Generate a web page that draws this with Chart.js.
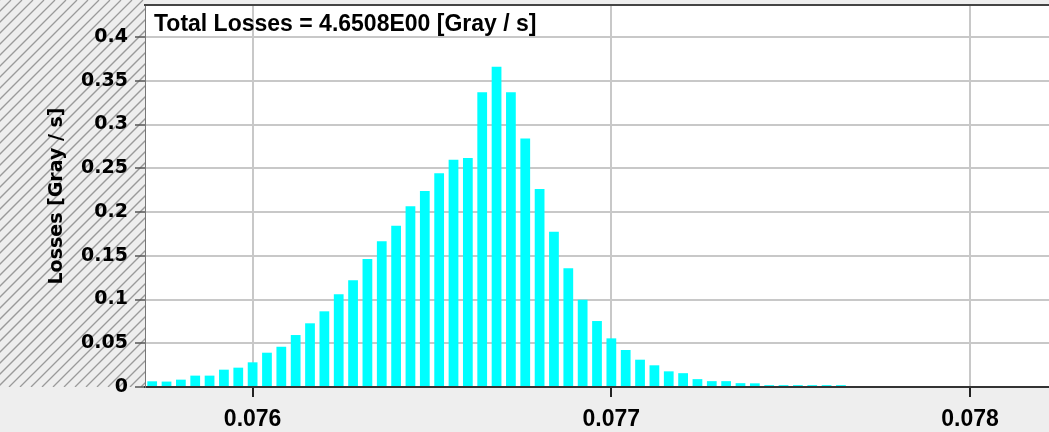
<!DOCTYPE html>
<html lang="en">
<head>
    <meta charset="UTF-8">
    <title>Losses</title>
    <style>
      body { margin: 0; background: #eeeeee; }
      canvas { display: block; }
    </style>
</head>
  <body>
    <canvas id="lossChart" width="1049" height="432"></canvas>
    <script src="https://cdn.jsdelivr.net/npm/chart.js"></script>
    <script>
      // bin centres (x) and losses per bin [Gray / s]
      const binCenters = [
        0.07572, 0.07576, 0.07580, 0.07584, 0.07588, 0.07592, 0.07596, 0.07600,
        0.07604, 0.07608, 0.07612, 0.07616, 0.07620, 0.07624, 0.07628, 0.07632,
        0.07636, 0.07640, 0.07644, 0.07648, 0.07652, 0.07656, 0.07660, 0.07664,
        0.07668, 0.07672, 0.07676, 0.07680, 0.07684, 0.07688, 0.07692, 0.07696,
        0.07700, 0.07704, 0.07708, 0.07712, 0.07716, 0.07720, 0.07724, 0.07728,
        0.07732, 0.07736, 0.07740, 0.07744, 0.07748, 0.07752, 0.07756, 0.07760,
        0.07764
      ];
      const losses = [
        0.0065, 0.0062, 0.0084, 0.0130, 0.0130, 0.0198, 0.0221, 0.0282,
        0.0392, 0.0460, 0.0594, 0.0728, 0.0865, 0.1060, 0.1220, 0.1462,
        0.1665, 0.1844, 0.2065, 0.2240, 0.2442, 0.2598, 0.2617, 0.3370,
        0.3660, 0.3370, 0.2840, 0.2263, 0.1775, 0.1356, 0.0998, 0.0754,
        0.0556, 0.0423, 0.0312, 0.0248, 0.0179, 0.0158, 0.0090, 0.0067,
        0.0067, 0.0044, 0.0042, 0.0021, 0.0021, 0.0021, 0.0021, 0.0021,
        0.0021
      ];
      const xTicks = [0.076, 0.077, 0.078];
      const yTicks = [0, 0.05, 0.1, 0.15, 0.2, 0.25, 0.3, 0.35, 0.4];
      const titleText = 'Total Losses = 4.6508E00 [Gray / s]';

      // grey background, hatched axis strip, white plot, top border and title
      const frame = {
        id: 'frame',
        beforeDraw(chart) {
          const { ctx, chartArea: a, width, height } = chart;
          ctx.save();
          ctx.fillStyle = '#eeeeee';
          ctx.fillRect(0, 0, width, height);
          ctx.beginPath();
          ctx.rect(0, 0, a.left, a.bottom);
          ctx.clip();
          ctx.strokeStyle = '#9a9a9a';
          ctx.lineWidth = 1.3;
          ctx.beginPath();
          for (let x = -a.bottom; x < a.left + 11; x += 11) {
            ctx.moveTo(x, a.bottom);
            ctx.lineTo(x + a.bottom, 0);
          }
          ctx.stroke();
          ctx.restore();
          ctx.fillStyle = '#ffffff';
          ctx.fillRect(a.left, a.top, a.right - a.left, a.bottom - a.top);
        },
        afterDraw(chart) {
          const { ctx, chartArea: a } = chart;
          ctx.save();
          ctx.fillStyle = '#444444';
          ctx.fillRect(a.left - 1, a.top - 1, a.right - a.left + 1, 2);
          ctx.fillStyle = '#000000';
          ctx.font = 'bold 23px "Liberation Sans", Arial, sans-serif';
          ctx.textBaseline = 'alphabetic';
          ctx.fillText(titleText, a.left + 9, a.top + 26);
          ctx.restore();
        }
      };

      const ctx = document.getElementById('lossChart').getContext('2d');
      new Chart(ctx, {
        type: 'bar',
        data: {
          datasets: [{
            data: binCenters.map((x, i) => ({ x: x, y: losses[i] })),
            backgroundColor: '#00ffff',
            borderWidth: 0,
            barPercentage: 0.68,
            categoryPercentage: 1.0
          }]
        },
        options: {
          responsive: false,
          animation: false,
          layout: { padding: { top: 5, right: 0, bottom: 0, left: 0 } },
          plugins: {
            legend: { display: false },
            tooltip: { enabled: false }
          },
          scales: {
            x: {
              type: 'linear',
              min: 0.0757,
              max: 0.07822,
              offset: false,
              afterBuildTicks: s => { s.ticks = xTicks.map(v => ({ value: v })); },
              afterFit: s => { s.height = 45; s.paddingLeft = 0; s.paddingRight = 0; },
              grid: { color: '#c8c8c8', lineWidth: 2, offset: false, tickLength: 10, tickColor: '#222222', tickWidth: 2 },
              border: { color: '#333333', width: 2 },
              ticks: {
                color: '#000000',
                padding: 9,
                maxRotation: 0,
                font: { family: 'Liberation Sans', weight: 'bold', size: 23 },
                callback: v => String(v)
              }
            },
            y: {
              min: 0,
              max: 0.4366,
              afterBuildTicks: s => { s.ticks = yTicks.map(v => ({ value: v })); },
              afterFit: s => { s.width = 145; s.paddingTop = 0; s.paddingBottom = 0; },
              grid: { color: '#c8c8c8', lineWidth: 2, tickLength: 10, tickColor: '#555555', tickWidth: 1.5 },
              border: { color: '#777777', width: 1 },
              ticks: {
                color: '#000000',
                padding: 7,
                font: { family: 'DejaVu Sans', weight: 'bold', size: 19 },
                callback: v => String(v)
              },
              title: {
                display: true,
                text: 'Losses [Gray / s]',
                color: '#000000',
                font: { family: 'DejaVu Sans', weight: 'bold', size: 19 },
                padding: { top: 46, bottom: 0 }
              }
            }
          }
        },
        plugins: [frame]
      });
    </script>
  </body>
</html>
